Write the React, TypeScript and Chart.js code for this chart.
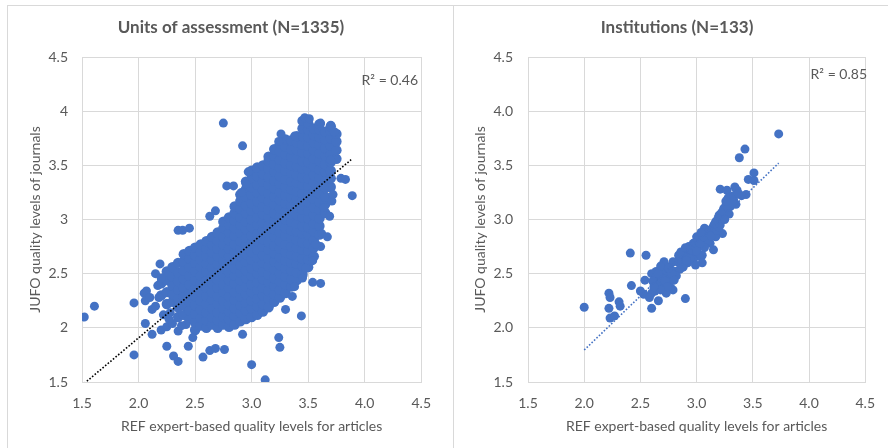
import { useEffect, useRef } from 'react';
import { Chart, registerables } from 'chart.js';

Chart.register(...registerables);

const FONT = 'Lato, "Open Sans", sans-serif';
const TEXT = '#595959';
const GRID = '#d9d9d9';
const BLUE = '#4472C4';

const AXIS_MIN = 1.5;
const AXIS_MAX = 4.5;
const AXIS_STEP = 0.5;

const X_TITLE = 'REF expert-based quality levels for articles';
const Y_TITLE = 'JUFO quality levels of journals';

// ---------- Units of assessment (left) ----------
const uoaTitle = 'Units of assessment (N=1335)';
const uoaR2 = 'R\u00B2 = 0.46';
const uoaTrendX = [1.52, 3.88];
const uoaSlope = 0.875;
const uoaIntercept = 0.157;

// dense core, read column by column: [x, y values]
const uoaColumns: [number, number[]][] = [
  [2.2, [2.3, 2.41]],
  [2.25, [2.22, 2.33, 2.44, 2.52]],
  [2.3, [2.24, 2.31, 2.39, 2.47, 2.56]],
  [2.35, [2.1, 2.19, 2.27, 2.35, 2.43, 2.51, 2.6]],
  [2.4, [2.12, 2.21, 2.29, 2.37, 2.45, 2.53, 2.61, 2.68]],
  [2.45, [2.08, 2.16, 2.24, 2.32, 2.4, 2.48, 2.56, 2.64, 2.71]],
  [2.5, [1.98, 2.05, 2.13, 2.21, 2.29, 2.37, 2.44, 2.52, 2.6, 2.67, 2.74]],
  [2.55, [2.02, 2.09, 2.17, 2.25, 2.33, 2.41, 2.48, 2.56, 2.63, 2.7, 2.77]],
  [2.6, [2.0, 2.07, 2.14, 2.22, 2.29, 2.37, 2.44, 2.52, 2.59, 2.66, 2.73, 2.8]],
  [2.65, [2.03, 2.1, 2.18, 2.26, 2.33, 2.41, 2.48, 2.56, 2.63, 2.7, 2.77, 2.84]],
  [2.7, [2.0, 2.07, 2.14, 2.22, 2.29, 2.37, 2.44, 2.52, 2.59, 2.66, 2.73, 2.8, 2.88]],
  [2.75, [2.03, 2.1, 2.18, 2.25, 2.33, 2.4, 2.48, 2.55, 2.62, 2.69, 2.77, 2.84, 2.92, 2.98]],
  [2.8, [2.01, 2.08, 2.15, 2.22, 2.29, 2.37, 2.44, 2.51, 2.59, 2.66, 2.73, 2.81, 2.88, 2.95, 3.02]],
  [2.85, [2.03, 2.11, 2.18, 2.26, 2.33, 2.41, 2.48, 2.55, 2.63, 2.7, 2.77, 2.85, 2.92, 2.99, 3.06, 3.12]],
  [2.9, [2.06, 2.14, 2.21, 2.29, 2.36, 2.44, 2.51, 2.58, 2.66, 2.73, 2.8, 2.88, 2.95, 3.02, 3.1, 3.17, 3.23]],
  [2.95, [2.08, 2.16, 2.23, 2.31, 2.38, 2.46, 2.53, 2.61, 2.68, 2.76, 2.83, 2.91, 2.98, 3.06, 3.13, 3.21, 3.28, 3.35]],
  [3.0, [2.1, 2.18, 2.25, 2.33, 2.4, 2.48, 2.55, 2.63, 2.7, 2.78, 2.85, 2.93, 3.0, 3.08, 3.15, 3.23, 3.3, 3.38, 3.45]],
  [3.05, [2.12, 2.2, 2.27, 2.35, 2.42, 2.5, 2.57, 2.65, 2.72, 2.8, 2.87, 2.95, 3.02, 3.1, 3.17, 3.25, 3.32, 3.4, 3.48]],
  [3.1, [2.15, 2.22, 2.3, 2.37, 2.45, 2.52, 2.6, 2.67, 2.75, 2.82, 2.9, 2.97, 3.05, 3.12, 3.2, 3.27, 3.35, 3.42, 3.5]],
  [3.15, [2.19, 2.27, 2.34, 2.42, 2.49, 2.57, 2.64, 2.72, 2.79, 2.87, 2.94, 3.02, 3.09, 3.17, 3.24, 3.32, 3.39, 3.47, 3.54, 3.58]],
  [3.2, [2.24, 2.31, 2.39, 2.46, 2.54, 2.61, 2.69, 2.76, 2.84, 2.91, 2.99, 3.06, 3.14, 3.21, 3.29, 3.36, 3.44, 3.51, 3.59, 3.65]],
  [3.25, [2.28, 2.35, 2.43, 2.5, 2.58, 2.65, 2.73, 2.8, 2.88, 2.95, 3.03, 3.1, 3.18, 3.25, 3.33, 3.4, 3.48, 3.55, 3.63, 3.7]],
  [3.3, [2.32, 2.4, 2.47, 2.55, 2.62, 2.7, 2.77, 2.85, 2.92, 3.0, 3.07, 3.15, 3.22, 3.3, 3.37, 3.45, 3.52, 3.6, 3.67, 3.74]],
  [3.35, [2.38, 2.45, 2.53, 2.6, 2.68, 2.75, 2.83, 2.9, 2.98, 3.05, 3.13, 3.2, 3.28, 3.35, 3.43, 3.5, 3.58, 3.65, 3.73]],
  [3.4, [2.44, 2.51, 2.59, 2.66, 2.74, 2.81, 2.89, 2.96, 3.04, 3.11, 3.19, 3.26, 3.34, 3.41, 3.49, 3.56, 3.64, 3.71, 3.77]],
  [3.45, [2.49, 2.57, 2.64, 2.72, 2.79, 2.87, 2.94, 3.02, 3.09, 3.17, 3.24, 3.32, 3.39, 3.47, 3.54, 3.62, 3.69, 3.77, 3.84, 3.91]],
  [3.5, [2.56, 2.63, 2.71, 2.78, 2.86, 2.93, 3.01, 3.08, 3.16, 3.23, 3.31, 3.38, 3.46, 3.53, 3.61, 3.68, 3.76, 3.83, 3.89]],
  [3.55, [2.66, 2.74, 2.81, 2.89, 2.96, 3.04, 3.11, 3.19, 3.26, 3.34, 3.41, 3.49, 3.56, 3.64, 3.71, 3.78, 3.84]],
  [3.6, [2.86, 2.94, 3.01, 3.09, 3.16, 3.24, 3.31, 3.39, 3.46, 3.54, 3.61, 3.69, 3.76, 3.83, 3.88]],
  [3.65, [3.06, 3.14, 3.21, 3.29, 3.36, 3.44, 3.51, 3.59, 3.66, 3.74, 3.81]],
  [3.7, [3.3, 3.38, 3.45, 3.53, 3.6, 3.68, 3.75, 3.82, 3.86]],
  [3.75, [3.56, 3.64, 3.72, 3.79]],
];

// scattered points around the core
const uoaOutliers: [number, number][] = [
  [1.52, 2.1], [1.61, 2.2], [1.96, 2.23], [1.96, 1.75], [2.06, 2.04], [2.05, 2.32], [2.07, 2.34],
  [2.06, 2.25], [2.12, 1.94], [2.12, 2.17], [2.15, 2.2], [2.15, 2.5], [2.17, 2.39], [2.19, 2.59],
  [2.18, 2.28], [2.2, 1.98], [2.25, 2.01], [2.3, 2.04], [2.35, 1.97], [2.42, 2.03], [2.48, 1.91],
  [2.25, 1.83], [2.31, 1.74], [2.35, 1.69], [2.44, 1.83], [2.57, 1.73], [2.63, 1.79], [2.68, 1.81],
  [2.76, 1.8], [2.92, 1.94], [3.0, 1.66], [3.12, 1.52], [3.24, 1.91], [3.25, 1.82], [3.44, 2.11],
  [3.3, 2.17], [3.36, 2.29], [3.38, 2.38], [3.45, 2.46], [3.54, 2.42], [3.61, 2.41], [3.48, 2.55],
  [3.54, 2.62], [3.61, 2.75], [3.57, 2.77], [3.62, 2.87], [3.67, 2.84], [3.69, 3.03], [3.64, 3.11],
  [3.71, 3.17], [3.72, 3.23], [3.64, 3.3], [3.79, 3.38], [3.83, 3.37], [3.89, 3.22], [3.7, 3.55],
  [3.73, 3.81], [3.7, 3.87], [3.61, 3.89], [3.47, 3.94], [3.51, 3.93], [3.38, 3.77], [3.26, 3.79],
  [3.24, 3.72], [2.75, 3.89], [2.92, 3.68], [2.97, 3.44], [2.95, 3.33], [2.91, 3.25], [2.78, 3.31],
  [2.84, 3.31], [2.63, 3.03], [2.68, 3.08], [2.35, 2.9], [2.39, 2.9], [2.45, 2.92], [2.2, 2.46],
  [2.22, 2.12], [2.28, 2.14], [2.38, 2.02], [2.1, 2.28], [2.27, 2.08],
];

// ---------- Institutions (right) ----------
const instTitle = 'Institutions (N=133)';
const instR2 = 'R\u00B2 = 0.85';
const instTrendX = [2.0, 3.73];
const instSlope = 0.997;
const instIntercept = -0.199;

const instPoints: [number, number][] = [
  [2.0, 2.19], [3.73, 3.79], [3.43, 3.65], [3.38, 3.57], [3.51, 3.43], [3.46, 3.37], [3.51, 3.36],
  [3.21, 3.28], [3.27, 3.27], [3.34, 3.3], [3.36, 3.27], [3.44, 3.23], [3.4, 3.22], [3.3, 3.21],
  [3.33, 3.18], [3.29, 3.16], [3.26, 3.13], [3.3, 3.12], [3.27, 3.08], [3.23, 3.07], [3.2, 3.04],
  [3.25, 3.04], [3.35, 3.14], [3.31, 3.19], [3.28, 3.2], [3.24, 3.1], [3.22, 3.06], [3.28, 3.11],
  [3.32, 3.15], [3.26, 3.17], [3.29, 3.05], [3.21, 3.0], [3.19, 3.01], [3.18, 2.97], [3.17, 2.98],
  [3.15, 2.94], [3.21, 2.95], [3.16, 2.92], [3.13, 2.91], [3.07, 2.92], [3.23, 2.87], [3.17, 2.84],
  [3.15, 2.72], [3.11, 2.8], [3.09, 2.82], [3.12, 2.78], [3.0, 2.84], [3.05, 2.81], [3.1, 2.8],
  [2.97, 2.78], [2.93, 2.75], [3.02, 2.75], [3.07, 2.74], [3.05, 2.67], [3.02, 2.66], [2.96, 2.69],
  [2.92, 2.7], [2.97, 2.63], [2.92, 2.6], [3.05, 2.6], [2.99, 2.58], [2.89, 2.66], [2.84, 2.67],
  [2.87, 2.6], [2.83, 2.61], [2.79, 2.61], [2.81, 2.52], [2.77, 2.54], [2.73, 2.57], [2.73, 2.49],
  [2.76, 2.43], [2.7, 2.51], [2.64, 2.52], [2.6, 2.5], [2.71, 2.61], [2.68, 2.57], [2.64, 2.47],
  [2.61, 2.43], [2.67, 2.4], [2.7, 2.36], [2.77, 2.37], [2.79, 2.35], [2.73, 2.32], [2.63, 2.34],
  [2.6, 2.32], [2.53, 2.31], [2.5, 2.34], [2.54, 2.44], [2.66, 2.25], [2.6, 2.18], [2.42, 2.39],
  [2.41, 2.69], [2.55, 2.67], [2.9, 2.27], [2.22, 2.32], [2.23, 2.28], [2.22, 2.18], [2.31, 2.24],
  [2.32, 2.2], [2.23, 2.09], [2.27, 2.11], [2.86, 2.7], [2.9, 2.74], [2.95, 2.72], [2.98, 2.76],
  [3.03, 2.78], [3.06, 2.84], [2.94, 2.64], [2.88, 2.56], [2.85, 2.54], [2.82, 2.48], [2.78, 2.5],
  [2.75, 2.55], [2.69, 2.46], [2.66, 2.5], [2.72, 2.43], [2.74, 2.38], [2.68, 2.35], [2.62, 2.38],
  [2.58, 2.28], [3.0, 2.71], [3.1, 2.88], [3.13, 2.85], [3.18, 2.9], [3.2, 2.93], [3.16, 2.96],
  [3.25, 3.0], [3.33, 3.22], [3.37, 3.24], [2.91, 2.62], [2.8, 2.44], [3.04, 2.88],
];

type Pt = { x: number; y: number };

const panelText = {
  id: 'panelText',
  afterDraw(chart: any, _args: any, opts: any) {
    const ctx = chart.ctx as CanvasRenderingContext2D;
    ctx.save();
    ctx.fillStyle = TEXT;
    ctx.textBaseline = 'middle';
    ctx.font = `bold 17px ${FONT}`;
    ctx.textAlign = 'center';
    ctx.fillText(opts.title, opts.titleX, opts.titleY);
    ctx.font = `14px ${FONT}`;
    ctx.textAlign = 'right';
    ctx.fillText(opts.r2, opts.r2X, opts.r2Y);
    ctx.restore();
  },
};

type PanelProps = {
  left: number;
  title: string;
  titleX: number;
  r2: string;
  r2X: number;
  r2Y: number;
  core: Pt[];
  points: Pt[];
  trend: Pt[];
  trendColor: string;
  yFixed: boolean;
  padLeft: number;
  padRight: number;
  yWidth: number;
  yTickPad: number;
};

function ScatterPanel(p: PanelProps) {
  const ref = useRef<HTMLCanvasElement>(null);
  useEffect(() => {
    if (!ref.current) return;
    const tickFont = { family: FONT, size: 14 };
    const chart = new Chart(ref.current, {
      type: 'scatter',
      data: {
        datasets: [
          {
            data: p.trend,
            showLine: true,
            borderColor: p.trendColor,
            borderWidth: 1.6,
            borderDash: [1.6, 1.8],
            pointRadius: 0,
            fill: false,
          } as any,
          {
            data: p.points,
            backgroundColor: BLUE,
            borderWidth: 0,
            pointRadius: 4.5,
          },
          {
            data: p.core,
            backgroundColor: BLUE,
            borderWidth: 0,
            pointRadius: 5.2,
          },
        ],
      },
      plugins: [panelText as any],
      options: {
        responsive: false,
        animation: false,
        layout: { padding: { left: p.padLeft, right: p.padRight, top: 57, bottom: 13 } },
        plugins: {
          legend: { display: false },
          tooltip: { enabled: false },
          panelText: { title: p.title, titleX: p.titleX, titleY: 28, r2: p.r2, r2X: p.r2X, r2Y: p.r2Y },
        } as any,
        scales: {
          x: {
            type: 'linear',
            min: AXIS_MIN,
            max: AXIS_MAX,
            ticks: {
              stepSize: AXIS_STEP,
              color: TEXT,
              font: tickFont,
              padding: 13,
              maxRotation: 0,
              autoSkip: false,
              callback: (v: any) => Number(v).toFixed(1),
            },
            grid: { color: GRID, drawTicks: false, lineWidth: 1 },
            border: { color: GRID },
            title: { display: true, text: X_TITLE, color: TEXT, font: tickFont, padding: 0 },
            afterFit: (s: any) => {
              s.height = 53;
            },
          },
          y: {
            type: 'linear',
            min: AXIS_MIN,
            max: AXIS_MAX,
            ticks: {
              stepSize: AXIS_STEP,
              color: TEXT,
              font: tickFont,
              padding: p.yTickPad,
              autoSkip: false,
              callback: (v: any) => (p.yFixed ? Number(v).toFixed(1) : String(Number(v))),
            },
            grid: { color: GRID, drawTicks: false, lineWidth: 1 },
            border: { color: GRID },
            title: { display: true, text: Y_TITLE, color: TEXT, font: tickFont, padding: 0 },
            afterFit: (s: any) => {
              s.width = p.yWidth;
            },
          },
        },
      } as any,
    });
    return () => chart.destroy();
  }, []);
  return (
    <canvas
      ref={ref}
      width={444}
      height={448}
      style={{ position: 'absolute', left: p.left, top: 0, width: 444, height: 448 }}
    />
  );
}

const toPts = (arr: [number, number][]): Pt[] => arr.map(([x, y]) => ({ x, y }));

const uoaCore: Pt[] = uoaColumns.flatMap(([x, ys]) => ys.map((y) => ({ x, y })));
const uoaTrend: Pt[] = uoaTrendX.map((x) => ({ x, y: uoaIntercept + uoaSlope * x }));
const instTrend: Pt[] = instTrendX.map((x) => ({ x, y: instIntercept + instSlope * x }));

export default function App() {
  return (
    <div
      style={{
        position: 'fixed',
        left: 0,
        top: 0,
        width: 888,
        height: 448,
        background: '#ffffff',
        overflow: 'hidden',
      }}
    >
      <div style={{ position: 'absolute', left: 7, top: 5, width: 881, height: 1, background: GRID }} />
      <div style={{ position: 'absolute', left: 7, top: 5, width: 1, height: 443, background: GRID }} />
      <div style={{ position: 'absolute', left: 453, top: 5, width: 1, height: 443, background: GRID }} />
      <ScatterPanel
        left={0}
        title={uoaTitle}
        titleX={231}
        r2={uoaR2}
        r2X={418}
        r2Y={80}
        core={uoaCore}
        points={toPts(uoaOutliers)}
        trend={uoaTrend}
        trendColor="#000000"
        yFixed={false}
        padLeft={27}
        padRight={15}
        yWidth={55}
        yTickPad={14}
      />
      <ScatterPanel
        left={444}
        title={instTitle}
        titleX={233}
        r2={instR2}
        r2X={423}
        r2Y={74}
        core={[]}
        points={toPts(instPoints)}
        trend={instTrend}
        trendColor={BLUE}
        yFixed={true}
        padLeft={28}
        padRight={13}
        yWidth={56}
        yTickPad={15}
      />
    </div>
  );
}
